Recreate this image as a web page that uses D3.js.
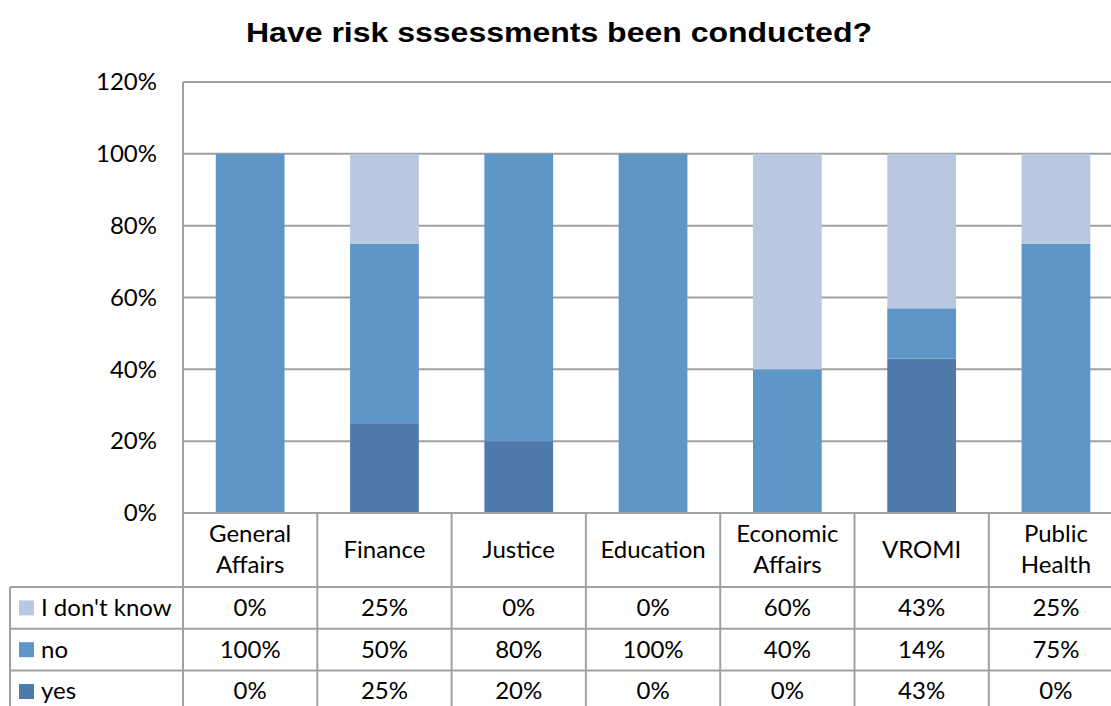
<!DOCTYPE html>
<html>
<head>
<meta charset="utf-8">
<script src="https://cdn.jsdelivr.net/npm/d3@7"></script>
<style>
  html, body { margin: 0; padding: 0; background: #fff; }
  svg { display: block; }
</style>
</head>
<body>
<svg id="chart" width="1111" height="706"></svg>
<script>
// Departments (header cells; "\n" splits a cell over two lines)
const categories = ["General\nAffairs", "Finance", "Justice", "Education", "Economic\nAffairs", "VROMI", "Public\nHealth"];
// Share of answers per department, in percent
const yesValues = [0, 25, 20, 0, 0, 43, 0];
const noValues = [100, 50, 80, 100, 40, 14, 75];
const dontKnowValues = [0, 25, 0, 0, 60, 43, 25];
const yTicks = [0, 20, 40, 60, 80, 100, 120];

// Series in stacking order, bottom to top
const seriesNames = ["yes", "no", "I don't know"];
const seriesColors = { "yes": "#4f7bac", "no": "#5f96c8", "I don't know": "#b9c8e0" };
// Table rows, top to bottom
const tableRows = ["I don't know", "no", "yes"];

const rows = categories.map((c, i) => ({
  cat: c, "yes": yesValues[i], "no": noValues[i], "I don't know": dontKnowValues[i]
}));

const svg = d3.select("#chart");
const FONT = "Lato, 'Open Sans', sans-serif";
const FS = "24px";
const GRID = "#a0a0a0";

const plot = { left: 183, top: 82, bottom: 513 };
const colW = 134.3;
const plotRight = plot.left + colW * categories.length;

const x = d3.scaleBand().domain(categories).range([plot.left, plotRight]).padding(0);
const y = d3.scaleLinear().domain([0, 120]).range([plot.bottom, plot.top]);
const barW = x.bandwidth() * 0.512;

// Title
svg.append("text")
  .attr("x", 559).attr("y", 42)
  .attr("text-anchor", "middle")
  .style("font-family", "'Liberation Sans', Arial, sans-serif")
  .style("font-weight", "bold")
  .style("font-size", "27px")
  .attr("textLength", 626)
  .attr("lengthAdjust", "spacingAndGlyphs")
  .text("Have risk sssessments been conducted?");

// Horizontal gridlines
svg.append("g").selectAll("line")
  .data(yTicks.filter(t => t > 0))
  .join("line")
  .attr("x1", plot.left).attr("x2", plotRight)
  .attr("y1", d => y(d)).attr("y2", d => y(d))
  .attr("stroke", GRID).attr("stroke-width", 2);

// Y axis tick labels
const yAxis = d3.axisLeft(y).tickValues(yTicks).tickFormat(d => d + "%").tickSize(0).tickPadding(26);
const yg = svg.append("g").attr("transform", `translate(${plot.left},0)`).call(yAxis);
yg.select(".domain").remove();
yg.selectAll("text")
  .style("font-family", FONT).style("font-size", FS).attr("fill", "#000");

// Stacked bars
const stack = d3.stack().keys(seriesNames);
const layers = stack(rows);
svg.append("g").selectAll("g")
  .data(layers)
  .join("g")
  .attr("fill", d => seriesColors[d.key])
  .selectAll("rect")
  .data(d => d)
  .join("rect")
  .attr("x", d => x(d.data.cat) + (x.bandwidth() - barW) / 2)
  .attr("width", barW)
  .attr("y", d => y(d[1]))
  .attr("height", d => y(d[0]) - y(d[1]));

// Plot frame: left axis, continuing down as the table's first column line
svg.append("line").attr("x1", plot.left).attr("x2", plot.left)
  .attr("y1", plot.top).attr("y2", 706).attr("stroke", GRID).attr("stroke-width", 2);

// Data table
const headerTop = plot.bottom, headerBottom = 587, rowH = 41.8;
const legendLeft = 10;
const table = svg.append("g");

table.append("line").attr("x1", plot.left).attr("x2", plotRight)
  .attr("y1", headerTop).attr("y2", headerTop).attr("stroke", GRID).attr("stroke-width", 2);

// Column separators
table.selectAll("line.col")
  .data(categories)
  .join("line").attr("class", "col")
  .attr("x1", d => x(d) + x.bandwidth()).attr("x2", d => x(d) + x.bandwidth())
  .attr("y1", headerTop).attr("y2", 706)
  .attr("stroke", GRID).attr("stroke-width", 2);

// Row separators
table.selectAll("line.row")
  .data(d3.range(tableRows.length + 1))
  .join("line").attr("class", "row")
  .attr("x1", legendLeft).attr("x2", plotRight)
  .attr("y1", i => headerBottom + i * rowH).attr("y2", i => headerBottom + i * rowH)
  .attr("stroke", GRID).attr("stroke-width", 2);

table.append("line").attr("x1", legendLeft).attr("x2", legendLeft)
  .attr("y1", headerBottom).attr("y2", 706).attr("stroke", GRID).attr("stroke-width", 2);

// Header labels
const headerMid = (headerTop + headerBottom) / 2;
table.selectAll("text.head")
  .data(categories)
  .join("text").attr("class", "head")
  .attr("text-anchor", "middle")
  .style("font-family", FONT).style("font-size", FS)
  .each(function (d) {
    const lines = d.split("\n");
    const lh = 31;
    const t = d3.select(this);
    lines.forEach((ln, k) => {
      t.append("tspan")
        .attr("x", x(d) + x.bandwidth() / 2)
        .attr("y", headerMid + (k - (lines.length - 1) / 2) * lh)
        .attr("dy", "0.33em")
        .text(ln);
    });
  });

// Table rows: legend key + values
tableRows.forEach((key, r) => {
  const cy = headerBottom + r * rowH + rowH / 2;
  table.append("rect")
    .attr("x", 19).attr("y", cy - 7.5).attr("width", 15).attr("height", 15)
    .attr("fill", seriesColors[key]);
  table.append("text")
    .attr("x", 41).attr("y", cy).attr("dy", "0.33em")
    .style("font-family", FONT).style("font-size", FS)
    .text(key);
  table.selectAll(null)
    .data(rows)
    .join("text")
    .attr("x", d => x(d.cat) + x.bandwidth() / 2)
    .attr("y", cy).attr("dy", "0.33em")
    .attr("text-anchor", "middle")
    .style("font-family", FONT).style("font-size", FS)
    .text(d => d[key] + "%");
});
</script>
</body>
</html>
